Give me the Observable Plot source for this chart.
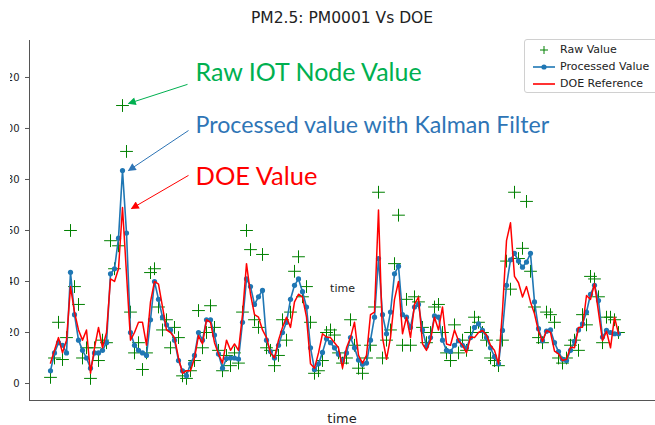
<!DOCTYPE html>
<html><head><meta charset="utf-8">
<script src="https://cdn.jsdelivr.net/npm/d3@7"></script>
<script src="https://cdn.jsdelivr.net/npm/@observablehq/plot@0.6"></script>
<style>
body{margin:0;background:#fff;}
#wrap{position:relative;width:655px;height:425px;overflow:hidden;font-family:"DejaVu Sans",sans-serif;color:#222;}
#chart svg{position:absolute;left:0;top:0;clip-path:inset(0 0 0 10px);}
#title{position:absolute;top:9px;left:0;width:684px;text-align:center;font-size:15.5px;line-height:18px;color:#222;}
#xlabel{position:absolute;top:411px;left:0;width:684px;text-align:center;font-size:13px;line-height:16px;color:#222;}
#legend{position:absolute;left:524px;top:39px;width:140px;height:54px;border:1px solid #d0d0d0;border-radius:3px;background:#fff;padding-top:1px;box-sizing:border-box;}
#legend .row{display:flex;align-items:center;height:17px;font-size:11px;}
#legend svg{margin-left:7px;margin-right:4px;}
</style>
</head><body>
<div id="wrap">
  <div id="chart"></div>
  <div id="title">PM2.5: PM0001 Vs DOE</div>
  <div id="xlabel">time</div>
  <div id="legend">
    <div class="row"><svg width="24" height="12"><path d="M12,2V10M8,6H16" stroke="#008000" stroke-width="1"/></svg><span>Raw Value</span></div>
    <div class="row"><svg width="24" height="12"><path d="M1,6H23" stroke="#1f77b4" stroke-width="1.6"/><circle cx="12" cy="6" r="2.6" fill="#1f77b4"/></svg><span>Processed Value</span></div>
    <div class="row"><svg width="24" height="12"><path d="M1,6H23" stroke="#ff0000" stroke-width="1.6"/></svg><span>DOE Reference</span></div>
  </div>
</div>
<script>
// Series values (one sample per time step)
const processed = [5,12,16,15,12,43.6,27,17,13,10,6,12,12,13,16,43,45,57,83.5,59,20,15,13,12,11,25,40,33,26,23,21,17,9,5,3,7.7,11,20,17,25,25,19,11.6,6,9.8,10,10,9.6,24,41,38,31,34,36.5,17,12.5,10,15,20,24,33,38.5,41,36,30,14,5.5,7.7,12.2,17.5,16,14,11.5,9,12,18,14,9.2,7.5,8,17,26,49,27,19.5,28,43,46,27,26,22,30,31,21,14.6,18,26.5,26,17,13,12.5,15,16.8,15,14,18,22,23.4,20.8,18,14,10.5,7.7,20.8,38.5,48.5,51,48,45.6,47.6,51,32,21.5,16.8,20.5,21,16,12.5,9.5,9,13,16.5,21,23.4,28,35,38.5,32.5,18.2,20.8,20,19.5,19.5];
const doe = [8,13,18,12,17,38,28,21,17,21,4,14,22,14,20,41,40,45,69,43,17,20,24,24,15,32,40,39,30,21,20,18,10,4,5,5,10,18.8,15.5,25,24,16,11.6,8,17,13,15.5,13,27,47,35,27,26,21,18,12,10,17,22,26,22,32,35,34,26,7.7,6,12,19.5,18.2,18,16,14,6,14,18,24,11,8,11,27,28,68,18,9.5,18,33,40,19.5,26,18,31,33.9,15.5,13,17,26,21,30,15.5,15,21,16.8,15,12,18.2,18,20,20.8,19,15,13,7.7,28.6,56,63,42,39.5,33.9,38,32,27.3,20.5,16.5,20.8,20,12.7,11.6,9,9.5,14.2,14,22,22.1,34.5,33,39.1,28,16.8,20.5,14,26,19.5];
const raw = [2.4,10,24,9.4,18,60,38,31,10,14,2,14,9,17,16,56,45,54,109,91,28,12,16,5.5,12,43.5,45,30,21,25,14,22,18,3,2,5,9,28.6,14,20,30.5,22,13,5,11,7,12,8,28,60,52.5,25,22,50.6,14,13,7,11,25,17,28,44,49.7,34,38,24,4,5,9,20,21,19,12,8,10,25,15,6,4,10,15,30,75,10,17,21,47,66,15,33,15,34,32,22,16,20,30,31,20,12,9,23,12,17,13,20,26,24,20,17,10,9,7,17,48,37,75,49,53,71.4,44,30,18,16,28,27,24,10,8,10,15,17,13,27,23,42,41,34,16,26,26,25,20];
const yTicks = [0,20,40,60,80,100,120];

// Annotations
const annText = ["Raw IOT Node Value", "Processed value with Kalman Filter", "DOE Value"];
const annX = [36.25, 36.25, 36.25];
const annY = [121.6, 101.2, 81.2];
const annSize = [25, 23.2, 25.5];
const annColor = ["#00b050", "#2e75b6", "#ff0000"];
const arrX1 = [34.25, 34.5, 34.5];
const arrY1 = [117.3, 99.2, 81.6];
const arrX2 = [19.5, 19.5, 20.25];
const arrY2 = [109.8, 83.5, 68.6];
const noteText = ["time"];
const noteX = [73];
const noteY = [37.3];

const n = Math.min(processed.length, doe.length, raw.length);
const idx = d3.range(n);
const ann = d3.range(annText.length);
const xDomain = [-5.25, 151.25];
const yDomain = [-6.667, 134.5];

const svg = Plot.plot({
  width: 655, height: 425,
  marginTop: 40, marginBottom: 25, marginLeft: 29, marginRight: 0,
  x: {domain: xDomain, axis: null},
  y: {domain: yDomain},
  style: {background: "transparent", fontFamily: "DejaVu Sans", color: "#222"},
  marks: [
    Plot.axisY({ticks: yTicks, tickSize: 4, tickPadding: 6, fontSize: 10, label: null, tickFormat: d => String(d), stroke: "#555"}),
    Plot.ruleX([xDomain[0]], {stroke: "#555", strokeWidth: 1}),
    Plot.ruleY([yDomain[0]], {stroke: "#555", strokeWidth: 1}),
    Plot.dot(idx, {x: i => i, y: i => raw[i], symbol: "plus", r: 4.2, stroke: "#008000", strokeWidth: 1}),
    Plot.line(idx, {x: i => i, y: i => processed[i], stroke: "#1f77b4", strokeWidth: 1.6}),
    Plot.dot(idx, {x: i => i, y: i => processed[i], r: 2.6, fill: "#1f77b4", stroke: "none"}),
    Plot.line(idx, {x: i => i, y: i => doe[i], stroke: "#ff0000", strokeWidth: 1.5}),
    Plot.link(ann, {x1: i => arrX1[i], y1: i => arrY1[i], x2: i => arrX2[i], y2: i => arrY2[i], stroke: i => annColor[i], strokeWidth: 1}),
    Plot.text(ann, {x: i => annX[i], y: i => annY[i], text: i => annText[i], fill: i => annColor[i], fontSize: i => annSize[i], fontFamily: "Lato", textAnchor: "start", lineAnchor: "middle"}),
    Plot.text(noteText, {x: (d, i) => noteX[i], y: (d, i) => noteY[i], text: d => d, fontSize: 11, fill: "#222"})
  ]
});
document.getElementById("chart").appendChild(svg);

// filled arrow heads on the annotation links
const defs = d3.select(svg).insert("defs", ":first-child");
d3.select(svg).selectAll('g[aria-label="link"] path').each(function(d, k) {
  const c = this.getAttribute("stroke") || annColor[k];
  const id = "ah" + k;
  defs.append("marker").attr("id", id).attr("viewBox", "0 0 10 10").attr("refX", 9).attr("refY", 5)
    .attr("markerWidth", 9).attr("markerHeight", 8).attr("markerUnits", "userSpaceOnUse").attr("orient", "auto")
    .append("path").attr("d", "M0,0L10,5L0,10z").attr("fill", c);
  this.setAttribute("marker-end", "url(#" + id + ")");
});
</script>
</body></html>
